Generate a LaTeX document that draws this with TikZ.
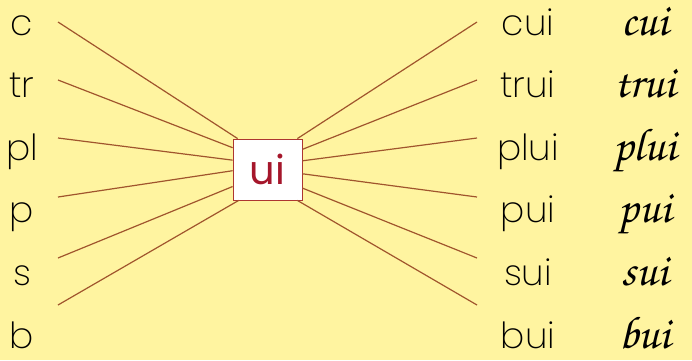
\documentclass[tikz,border=0pt]{standalone}
\usepackage[T1]{fontenc}
\usepackage{fontspec}
\IfFontExistsTF{Poppins ExtraLight}{\setmainfont{Poppins ExtraLight}}{\setmainfont{Poppins}}
\newfontfamily\boxfont{Poppins}
\newcommand{\cursive}{\fontencoding{T1}\fontfamily{pzc}\fontseries{mb}\fontshape{it}\selectfont}
\definecolor{bgyellow}{RGB}{255,244,160}
\definecolor{linebrown}{RGB}{160,85,45}
\definecolor{uired}{RGB}{165,22,43}
\tikzset{
    syll/.style={anchor=base, font=\fontsize{36}{38}\selectfont},
    hand/.style={anchor=base, font=\cursive\fontsize{46}{48}\selectfont},
    link/.style={draw=linebrown, line width=1.2pt},
    uibox/.style={draw=uired!70!brown, line width=0.8pt, fill=white, minimum width=69pt, minimum height=61pt, inner sep=0pt, text=uired, font=\boxfont\fontsize{40}{42}\selectfont}
}
\begin{document}
\begin{tikzpicture}[x=1pt, y=-1pt]
    \fill[bgyellow] (0,0) rectangle (692,360);
    \useasboundingbox (0,0) rectangle (692,360);
    \node[uibox] (ui) at (267.5,169.5) {ui};
    % left beginnings, right words, handwriting
    \foreach \i/\pre/\word/\yb/\yl/\al/\ar in {1/c/cui/35/22/134/46, 2/tr/trui/97/80/148/30, 3/pl/plui/160/138/165/14, 4/p/pui/222/197/182/-7, 5/s/sui/285/258/206/-28, 6/b/bui/348/305/227/-46}{
        \node[syll] (pre\i) at (22,\yb) {\pre};
        \node[syll] (word\i) at (528,\yb) {\word};
        \node[hand] (hand\i) at (645,\yb) {\word};
        \coordinate (l\i) at (58,\yl);
        \coordinate (r\i) at (477,\yl);
        \draw[link] (l\i) -- (ui.\al);
        \draw[link] (ui.\ar) -- (r\i);
    }
\end{tikzpicture}
\end{document}
